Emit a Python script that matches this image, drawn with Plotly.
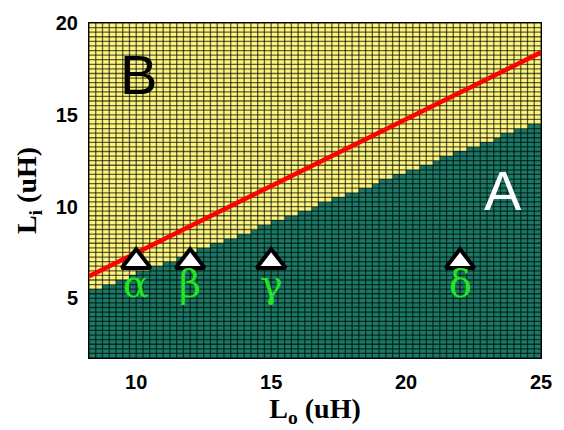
import numpy as np
import plotly.graph_objects as go

# Mesh of the (Lo, Li) design plane, 0.25 uH cells
lo_edges = np.arange(8.25, 25.0001, 0.25)
li_edges = np.arange(1.75, 20.0001, 0.25)

# Border between region A (below) and region B (above), read at the plane edges
boundary_lo = [8.25, 25.0]
boundary_li = [5.35, 14.65]

# Red design line
line_lo = [8.25, 25.0]
line_li = [6.2, 18.4]

# Marked design points
point_lo = [10, 12, 15, 22]
point_li = [7, 7, 7, 7]
point_names = ["α", "β", "γ", "δ"]

YELLOW = "#fbf47e"
TEAL = "#1a7a66"

lo_c = (lo_edges[:-1] + lo_edges[1:]) / 2
li_c = (li_edges[:-1] + li_edges[1:]) / 2
li_limit = np.interp(lo_c, boundary_lo, boundary_li)
region = (li_c[:, None] < li_limit[None, :]).astype(int)

fig = go.Figure()
fig.add_trace(go.Heatmap(
    x=lo_edges, y=li_edges, z=region,
    colorscale=[[0, YELLOW], [1, TEAL]], zmin=0, zmax=1,
    showscale=False, hoverinfo="skip",
))

# Faceted mesh lines
gx, gy = [], []
for x in lo_edges:
    gx += [x, x, None]
    gy += [li_edges[0], li_edges[-1], None]
for y in li_edges:
    gx += [lo_edges[0], lo_edges[-1], None]
    gy += [y, y, None]
fig.add_trace(go.Scatter(
    x=gx, y=gy, mode="lines",
    line=dict(color="rgba(0,0,0,0.62)", width=1.3),
    hoverinfo="skip", showlegend=False,
))

fig.add_trace(go.Scatter(
    x=line_lo, y=line_li, mode="lines",
    line=dict(color="#ff0000", width=4.5), showlegend=False,
))

fig.add_trace(go.Scatter(
    x=point_lo, y=point_li, mode="markers",
    marker=dict(symbol="triangle-up", size=25, color="white",
                line=dict(color="black", width=4)),
    showlegend=False,
))

for x, name in zip(point_lo, point_names):
    fig.add_annotation(x=x, y=5.8, text=name, showarrow=False,
                       font=dict(family="DejaVu Serif, Liberation Serif, serif",
                                 size=38, color="#22e622"))

fig.add_annotation(x=10.1, y=17.2, text="B", showarrow=False,
                   font=dict(family="Liberation Sans", size=56, color="black"))
fig.add_annotation(x=23.6, y=10.9, text="A", showarrow=False,
                   font=dict(family="Liberation Sans", size=56, color="white"))

tick_font = dict(family="Liberation Sans", size=20, color="black", weight="bold")
title_font = dict(family="Liberation Serif", size=28, color="black", weight="bold")

fig.update_xaxes(
    range=[8.25, 25], tickvals=[10, 15, 20, 25], tickfont=tick_font,
    ticklabelstandoff=6, showgrid=False, zeroline=False,
    showline=True, linecolor="black", linewidth=1, mirror=True,
    title=dict(text="L<sub>o</sub> (uH)", font=title_font, standoff=0),
)
fig.update_yaxes(
    range=[1.75, 20], tickvals=[5, 10, 15, 20], tickfont=tick_font,
    ticklabelstandoff=6, showgrid=False, zeroline=False,
    showline=True, linecolor="black", linewidth=1, mirror=True,
    title=dict(text="L<sub>i</sub> (uH)", font=title_font, standoff=10),
)

fig.update_layout(
    width=564, height=430,
    margin=dict(l=89, r=13, t=14, b=72),
    paper_bgcolor="white", plot_bgcolor="white",
    showlegend=False,
)

fig.write_html("out.html")
